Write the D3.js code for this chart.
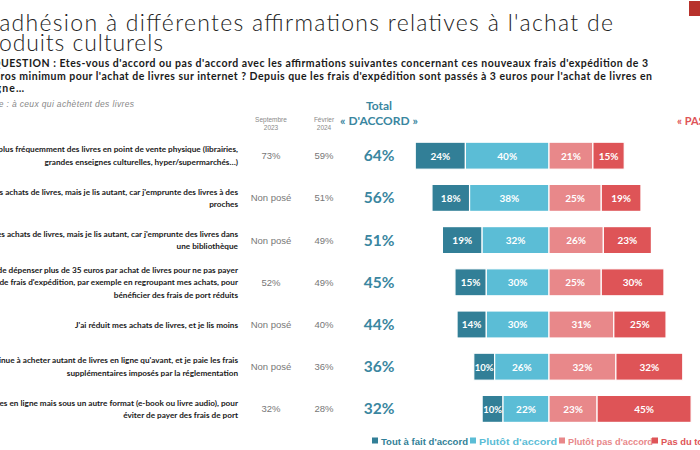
<!DOCTYPE html>
<html>
<head>
<meta charset="utf-8">
<script src="https://cdn.jsdelivr.net/npm/d3@7"></script>
<style>
  body { margin: 0; background: #fff; }
  svg { display: block; }
</style>
</head>
<body>
<div id="chart"></div>
<script>
// statements, one per row
const labels = [
  ["J'achète plus fréquemment des livres en point de vente physique (librairies,", "grandes enseignes culturelles, hyper/supermarchés…)"],
  ["J'ai réduit mes achats de livres, mais je lis autant, car j'emprunte des livres à des", "proches"],
  ["J'ai réduit mes achats de livres, mais je lis autant, car j'emprunte des livres dans", "une bibliothèque"],
  ["Je m'efforce de dépenser plus de 35 euros par achat de livres pour ne pas payer", "de frais d'expédition, par exemple en regroupant mes achats, pour", "bénéficier des frais de port réduits"],
  ["J'ai réduit mes achats de livres, et je lis moins"],
  ["Je continue à acheter autant de livres en ligne qu'avant, et je paie les frais", "supplémentaires imposés par la réglementation"],
  ["J'achète des livres en ligne mais sous un autre format (e-book ou livre audio), pour", "éviter de payer des frais de port"]
];
const sept2023 = ["73%", "Non posé", "Non posé", "52%", "Non posé", "Non posé", "32%"];
const feb2024 = [59, 51, 49, 49, 40, 36, 28];
const totalAccord = [64, 56, 51, 45, 44, 36, 32];
const toutAFait = [24, 18, 19, 15, 14, 10, 10];
const plutotAccord = [40, 38, 32, 30, 30, 26, 22];
const plutotPas = [21, 25, 26, 25, 31, 32, 23];
const pasDuTout = [15, 19, 23, 30, 25, 32, 45];
const legendLabels = ["Tout à fait d'accord", "Plutôt d'accord", "Plutôt pas d'accord", "Pas du tout d'accord"];
const colors = ["#327f97", "#5bbdd6", "#e8888a", "#de5457"];

const width = 700, height = 450;
const svg = d3.select("#chart").append("svg")
  .attr("width", width)
  .attr("height", height)
  .style("font-family", "Lato, sans-serif");

// title
svg.append("text").attr("x", -17).attr("y", 31)
  .attr("textLength", 630)
  .style("font-size", "23px").style("font-weight", 300).attr("fill", "#222")
  .text("L'adhésion à différentes affirmations relatives à l'achat de");
svg.append("text").attr("x", -23).attr("y", 51)
  .attr("textLength", 186)
  .style("font-size", "23px").style("font-weight", 300).attr("fill", "#222")
  .text("produits culturels");

// question
const qLines = [
  {t: "QUESTION : Etes-vous d'accord ou pas d'accord avec les affirmations suivantes concernant ces nouveaux frais d'expédition de 3", x: -8, w: 656, y: 67},
  {t: "euros minimum pour l'achat de livres sur internet ? Depuis que les frais d'expédition sont passés à 3 euros pour l'achat de livres en", x: -12, w: 664, y: 80},
  {t: "ligne…", x: -12, w: 36, y: 92}
];
svg.selectAll(".q").data(qLines).enter().append("text")
  .attr("x", d => d.x).attr("y", d => d.y)
  .attr("textLength", d => d.w)
  .style("font-size", "10.5px").style("font-weight", 700).attr("fill", "#1a1a1a")
  .text(d => d.t);
svg.append("text").attr("x", -17).attr("y", 107)
  .attr("textLength", 151)
  .style("font-size", "8.5px").style("font-style", "italic").attr("fill", "#888")
  .style("font-family", "'Liberation Sans', Arial, sans-serif")
  .text("Base : à ceux qui achètent des livres");

// logo
svg.append("rect").attr("x", 689).attr("y", 1).attr("width", 11).attr("height", 15).attr("fill", "#b8322c");

// scales
const x = d3.scaleLinear().domain([-70, 80]).range([402.7, 716.2]);
const y = d3.scaleBand().domain(d3.range(labels.length)).range([134.6, 430])
  .paddingInner(0.36).paddingOuter(0.18);

// column headers
const hdr = svg.append("g").style("font-family", "'Liberation Sans', Arial, sans-serif")
  .style("font-size", "6.5px").attr("fill", "#888").attr("text-anchor", "middle");
hdr.append("text").attr("x", 271).attr("y", 122).text("Septembre");
hdr.append("text").attr("x", 271).attr("y", 130).text("2023");
hdr.append("text").attr("x", 324).attr("y", 122).text("Février");
hdr.append("text").attr("x", 324).attr("y", 130).text("2024");
svg.append("text").attr("x", 379).attr("y", 110).attr("text-anchor", "middle")
  .style("font-size", "12px").style("font-weight", 700).attr("fill", "#3a86a0").text("Total");
svg.append("text").attr("x", 379).attr("y", 125).attr("text-anchor", "middle")
  .style("font-size", "12px").style("font-weight", 700).attr("fill", "#3a86a0").text("« D'ACCORD »");
svg.append("text").attr("x", 677).attr("y", 125)
  .style("font-size", "11px").style("font-weight", 700).attr("fill", "#de5457").text("« PAS D'ACCORD »");

// row labels
const rowLabels = svg.append("g").attr("text-anchor", "end")
  .style("font-size", "8.2px").style("font-weight", 700).attr("fill", "#1a1a1a");
labels.forEach((lines, i) => {
  const cy = y(i) + y.bandwidth() / 2;
  const lh = 12.5;
  const y0 = cy - (lines.length - 1) * lh / 2 + 3;
  lines.forEach((l, j) => {
    rowLabels.append("text").attr("x", 238).attr("y", y0 + j * lh).text(l);
  });
});

// side columns
const cols = svg.append("g").attr("text-anchor", "middle");
cols.selectAll(".sept").data(sept2023).enter().append("text")
  .attr("x", 271).attr("y", (d, i) => y(i) + y.bandwidth() / 2 + 3.5)
  .style("font-family", "'Liberation Sans', Arial, sans-serif")
  .style("font-size", "9.5px").attr("fill", "#777").text(d => d);
cols.selectAll(".feb").data(feb2024).enter().append("text")
  .attr("x", 324).attr("y", (d, i) => y(i) + y.bandwidth() / 2 + 3.5)
  .style("font-family", "'Liberation Sans', Arial, sans-serif")
  .style("font-size", "9.5px").attr("fill", "#777").text(d => d + "%");
cols.selectAll(".tot").data(totalAccord).enter().append("text")
  .attr("x", 379).attr("y", (d, i) => y(i) + y.bandwidth() / 2 + 5.5)
  .style("font-size", "15.5px").style("font-weight", 700).attr("fill", "#3a86a0").text(d => d + "%");

// diverging stacked bars
const segs = [];
labels.forEach((l, i) => {
  segs.push({row: i, k: 0, x0: -(toutAFait[i] + plutotAccord[i]), x1: -plutotAccord[i], v: toutAFait[i]});
  segs.push({row: i, k: 1, x0: -plutotAccord[i], x1: 0, v: plutotAccord[i]});
  segs.push({row: i, k: 2, x0: 0, x1: plutotPas[i], v: plutotPas[i]});
  segs.push({row: i, k: 3, x0: plutotPas[i], x1: plutotPas[i] + pasDuTout[i], v: pasDuTout[i]});
});
const bars = svg.append("g");
bars.selectAll("rect").data(segs).enter().append("rect")
  .attr("x", d => x(d.x0)).attr("y", d => y(d.row))
  .attr("width", d => x(d.x1) - x(d.x0)).attr("height", y.bandwidth())
  .attr("fill", d => colors[d.k])
  .attr("stroke", "#fff").attr("stroke-width", 1.2);
bars.selectAll("text").data(segs).enter().append("text")
  .attr("x", d => (x(d.x0) + x(d.x1)) / 2)
  .attr("y", d => y(d.row) + y.bandwidth() / 2 + 3.8)
  .attr("text-anchor", "middle")
  .style("font-size", d => d.v < 12 ? "9.5px" : "10px").style("font-weight", 700).attr("fill", "#fff")
  .text(d => d.v + "%");

// legend
const legX = [372, 470, 559, 652];
const legW = [87, 78, 85, 92];
const leg = svg.append("g").style("font-family", "'Liberation Sans', Arial, sans-serif")
  .style("font-size", "9.5px").style("font-weight", 700);
legendLabels.forEach((t, i) => {
  leg.append("rect").attr("x", legX[i]).attr("y", 437.5).attr("width", 6).attr("height", 6).attr("fill", colors[i]);
  leg.append("text").attr("x", legX[i] + 9).attr("y", 444.5).attr("fill", colors[i])
    .attr("textLength", legW[i]).attr("lengthAdjust", "spacingAndGlyphs").text(t);
});
</script>
</body>
</html>
